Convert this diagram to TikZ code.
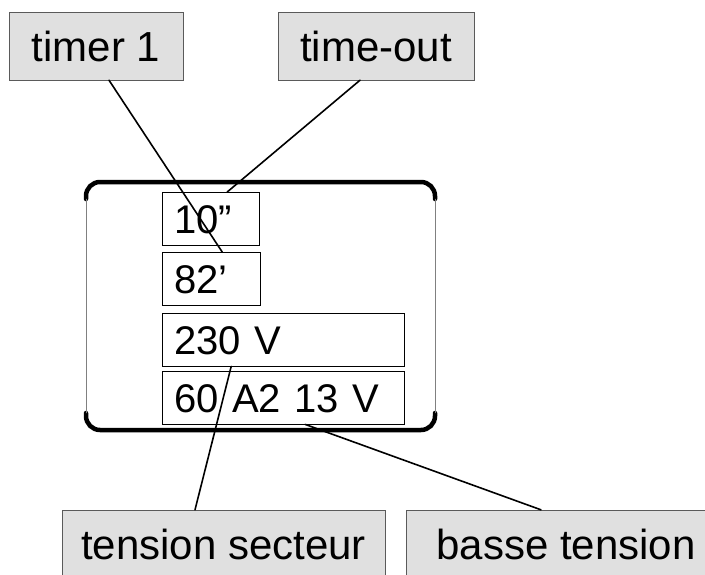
\documentclass[tikz,border=0pt]{standalone}
\usepackage{fontspec}
\setmainfont{Liberation Sans}
\usepackage{xcolor}
\definecolor{labelgray}{RGB}{224,224,224}
\definecolor{edgegray}{RGB}{90,90,90}
\usepackage{tikz}

\begin{document}
\begin{tikzpicture}[x=1pt,y=-1pt,line cap=round]
	\tikzstyle{lab}=[draw=edgegray,fill=labelgray,rectangle,minimum height=68pt,inner sep=0pt,font=\fontsize{42}{42}\selectfont,text height=31pt,text depth=0pt];
	\tikzstyle{disp}=[draw,thin,rectangle,anchor=north west,align=left,inner xsep=12pt,inner ysep=0pt,minimum height=53pt,font=\fontsize{40}{40}\selectfont,text height=33pt,text depth=3pt];
	\tikzstyle{wire}=[line width=1.6pt];
	\useasboundingbox (0,0) rectangle (705,574);
	\clip (0,0) rectangle (705,574);
	% labels
	\node[lab,minimum width=174pt] (timer) at (96,46) {timer 1};
	\node[lab,minimum width=196pt] (tout) at (376,46) {time-out};
	\node[lab,minimum width=323pt] (secteur) at (223.5,544) {tension secteur};
	\node[lab,minimum width=320pt] (basse) at (566,544) {basse tension};
	% display frame
	\draw[line width=4.5pt,rounded corners=14pt] (86,199) -- (86,182) -- (435,182) -- (435,199);
	\draw[line width=4.5pt,rounded corners=14pt] (86,413) -- (86,430) -- (435,430) -- (435,413);
	\draw[gray,thin] (86,199) -- (86,413);
	\draw[gray,thin] (435,199) -- (435,413);
	% display fields
	\node[disp,text width=73pt] (sec) at (162,192) {10”};
	\node[disp,text width=74pt] (min) at (162,252) {82’};
	\node[disp,text width=218pt] (mains) at (162,313) {230 V};
	\node[disp,text width=218pt] (low) at (162,371) {60 A2 13 V};
	% leaders
	\draw[wire] ([xshift=13pt]timer.south) -- ([xshift=11pt]min.north);
	\draw[wire] ([xshift=-16pt]tout.south) -- ([xshift=16.5pt]sec.north);
	\draw[wire] ([xshift=-52pt]mains.south) -- ([xshift=-28.5pt]secteur.north);
	\draw[wire] ([xshift=22pt]low.south) -- ([xshift=-25pt]basse.north);
\end{tikzpicture}
\end{document}
